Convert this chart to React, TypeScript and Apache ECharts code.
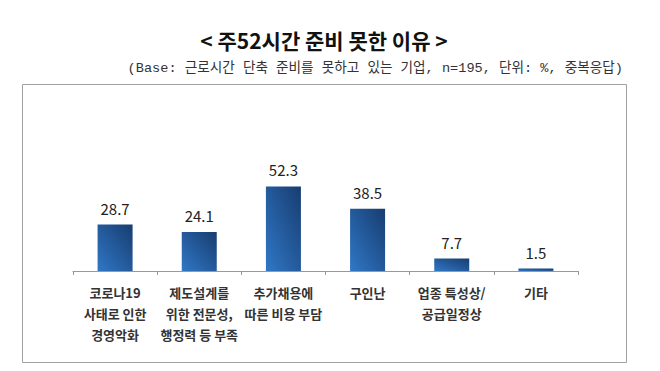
import React, { useEffect, useRef } from "react";
import * as echarts from "echarts";

const title = "< 주52시간 준비 못한 이유 >";
const subtitle = "(Base: 근로시간 단축 준비를 못하고 있는 기업, n=195, 단위: %, 중복응답)";
const categories = [
  "코로나19\n사태로 인한\n경영악화",
  "제도설계를\n위한 전문성,\n행정력 등 부족",
  "추가채용에\n따른 비용 부담",
  "구인난",
  "업종 특성상/\n공급일정상",
  "기타",
];
const values = [28.7, 24.1, 52.3, 38.5, 7.7, 1.5];

const FONT = "'Noto Sans CJK KR', 'Noto Sans', sans-serif";
const SUB_FONT = "'Liberation Mono', 'Noto Sans CJK KR', monospace";

export default function App() {
  const ref = useRef<HTMLDivElement>(null);
  useEffect(() => {
    if (!ref.current) return;
    const chart = echarts.init(ref.current, undefined, { renderer: "svg" });
    chart.setOption({
      animation: false,
      backgroundColor: "#ffffff",
      graphic: [
        {
          type: "rect",
          shape: { x: 22.5, y: 84.5, width: 604, height: 278 },
          style: { fill: "none", stroke: "#a0a0a0", lineWidth: 1 },
          z: 0,
        },
        {
          type: "text",
          x: 324,
          y: 40,
          style: {
            text: title,
            fontFamily: FONT,
            fontSize: 21,
            fontWeight: "bold",
            fill: "#111111",
            align: "center",
            verticalAlign: "middle",
          },
        },
        {
          type: "text",
          x: 623,
          y: 68,
          style: {
            text: subtitle,
            fontFamily: SUB_FONT,
            fontSize: 13.6,
            fill: "#333333",
            align: "right",
            verticalAlign: "middle",
          },
        },
      ],
      grid: { left: 73, right: 82, top: 174, bottom: 100, containLabel: false },
      xAxis: {
        type: "category",
        data: categories,
        axisLine: { lineStyle: { color: "#999999", width: 1 } },
        axisTick: { show: true, length: 4, lineStyle: { color: "#999999" } },
        axisLabel: {
          interval: 0,
          margin: 11,
          fontFamily: FONT,
          fontSize: 13,
          fontWeight: "bold",
          color: "#333333",
          lineHeight: 21,
        },
      },
      yAxis: {
        type: "value",
        min: 0,
        max: 60,
        show: false,
        splitLine: { show: false },
      },
      series: [
        {
          type: "bar",
          data: values,
          barWidth: 35,
          itemStyle: {
            color: new echarts.graphic.LinearGradient(0, 1, 1, 0, [
              { offset: 0, color: "#3077c6" },
              { offset: 1, color: "#173d70" },
            ]),
          },
          label: {
            show: true,
            position: "top",
            distance: 9,
            fontFamily: FONT,
            fontSize: 15,
            color: "#222222",
            formatter: (p: any) => p.value.toFixed(1),
          },
        },
      ],
    });
    return () => chart.dispose();
  }, []);
  return <div ref={ref} style={{ width: 660, height: 371, position: "absolute", left: 0, top: 0 }} />;
}
